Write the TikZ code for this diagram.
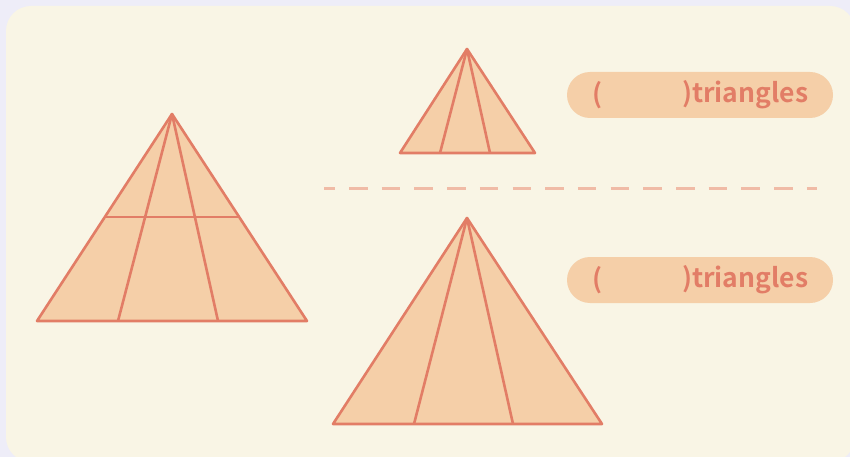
\documentclass[tikz,border=0pt]{standalone}
\usepackage{fontspec}
\newfontfamily\lblfont{Noto Sans CJK SC}[BoldFont={* Bold}]
\definecolor{outerbg}{HTML}{EEEDF8}
\definecolor{card}{HTML}{F9F5E5}
\definecolor{trifill}{HTML}{F5CFA8}
\definecolor{tristroke}{HTML}{E27D66}
\definecolor{dashcol}{HTML}{F0BBA6}
\tikzset{
  tri/.style={fill=trifill, draw=tristroke, line width=2.6pt, line join=round},
  inner/.style={draw=tristroke, line width=2.6pt},
  pill/.style={fill=trifill, rounded corners=23pt},
  lbl/.style={text=tristroke, font=\lblfont\fontsize{26.5}{30}\selectfont\bfseries, inner sep=0pt},
}
\begin{document}
\begin{tikzpicture}[x=1pt,y=-1pt]
\useasboundingbox (0,0) rectangle (850,457);
\fill[outerbg] (0,0) rectangle (850,457);
\fill[card, rounded corners=25pt] (6,6) rectangle (855,462);
% left triangle
\coordinate (LA) at (172,114);
\coordinate (LL) at (37,321);
\coordinate (LR) at (307,321);
\coordinate (L1) at (118,321);
\coordinate (L2) at (218,321);
\coordinate (LH1) at (104.8,217);
\coordinate (LH2) at (239.2,217);
\draw[tri] (LA) -- (LL) -- (LR) -- cycle;
\draw[inner] (LA) -- (L1);
\draw[inner] (LA) -- (L2);
\draw[inner] (LH1) -- (LH2);
% top small triangle
\coordinate (TA) at (467,49);
\coordinate (TL) at (400,153);
\coordinate (TR) at (535,153);
\coordinate (T1) at (440,153);
\coordinate (T2) at (490,153);
\draw[tri] (TA) -- (TL) -- (TR) -- cycle;
\draw[inner] (TA) -- (T1);
\draw[inner] (TA) -- (T2);
% bottom triangle
\coordinate (BA) at (467,218);
\coordinate (BL) at (333,424);
\coordinate (BR) at (602,424);
\coordinate (B1) at (414,424);
\coordinate (B2) at (513,424);
\draw[tri] (BA) -- (BL) -- (BR) -- cycle;
\draw[inner] (BA) -- (B1);
\draw[inner] (BA) -- (B2);
% dashed divider
\coordinate (D1) at (324,188);
\coordinate (D2) at (817,188);
\draw[dashcol, line width=3pt, dash pattern=on 18.5pt off 14.2pt, dash phase=7.7pt] (D1) -- (D2);
% pills
\fill[pill] (567,72) rectangle (833,118);
\node[lbl] (p1a) at (597,95) {(};
\node[lbl, anchor=west] (p1b) at (682,95) {)triangles};
\fill[pill] (567,257) rectangle (833,303);
\node[lbl] (p2a) at (597,280) {(};
\node[lbl, anchor=west] (p2b) at (682,280) {)triangles};
\end{tikzpicture}
\end{document}
